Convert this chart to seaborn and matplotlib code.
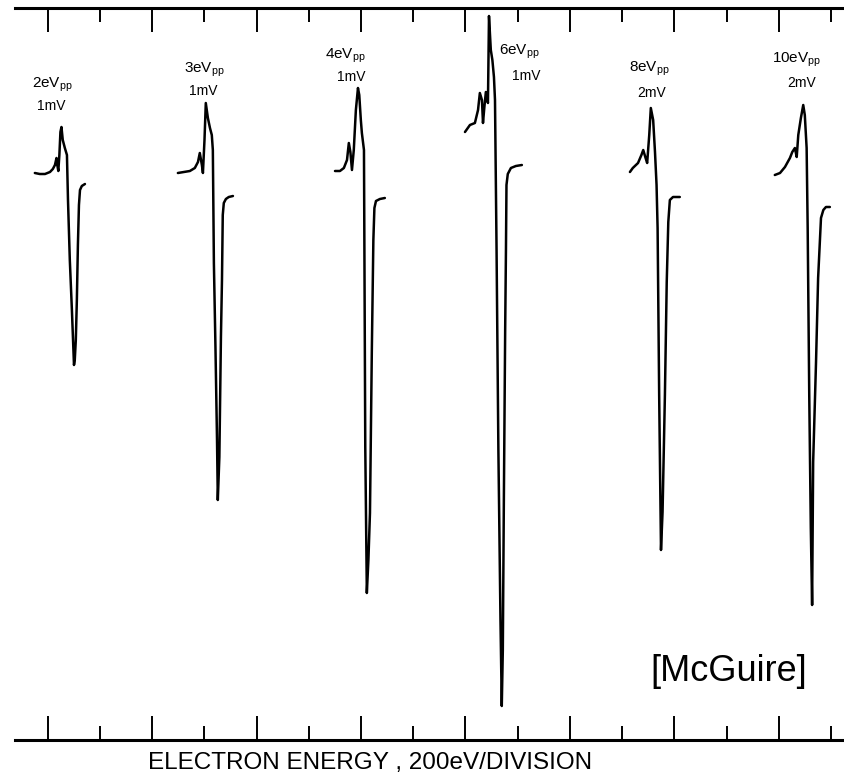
import numpy as np
import pandas as pd
import matplotlib
matplotlib.use("Agg")
import matplotlib.pyplot as plt
import seaborn as sns

# Auger derivative spectra at several modulation amplitudes
# energy in eV (200 eV per division), signal in arbitrary units
energy_2ev = [-50, -31, -11, 8, 19, 27, 33, 36, 40, 44, 48, 52, 57, 65, 73, 77, 84, 92,
              100, 103, 107, 111, 115, 119, 123, 130, 142]
signal_2ev = [567, 566, 566, 568, 571, 575, 582, 575, 569, 585, 608, 613, 600, 592, 585, 540, 480, 430,
              375, 380, 400, 440, 495, 535, 550, 554, 556]

energy_3ev = [498, 521, 544, 563, 575, 582, 590, 594, 600, 605, 613, 621, 628, 632, 636, 642, 648,
              651, 657, 663, 667, 670, 674, 682, 693, 709]
signal_3ev = [567, 568, 569, 572, 578, 587, 575, 567, 600, 637, 622, 612, 605, 590, 477, 393, 300,
              240, 283, 403, 460, 525, 537, 541, 543, 544]

energy_4ev = [1100, 1119, 1134, 1146, 1153, 1159, 1165, 1172, 1180, 1188, 1193, 1199, 1203, 1211,
              1216, 1222, 1228, 1234, 1241, 1247, 1251, 1257, 1272, 1291]
signal_4ev = [569, 569, 572, 580, 597, 588, 570, 590, 630, 652, 645, 620, 607, 590,
              293, 147, 180, 227, 387, 500, 532, 539, 541, 542]

energy_6ev = [1598, 1617, 1636, 1648, 1655, 1663, 1667, 1672, 1678, 1686, 1690, 1697, 1703, 1709,
              1713, 1719, 1726, 1734, 1739, 1743, 1747, 1752, 1755, 1757, 1762, 1774, 1793, 1816]
signal_6ev = [608, 615, 617, 630, 647, 640, 617, 632, 648, 637, 724, 690, 680, 663,
              640, 490, 290, 120, 34, 90, 240, 410, 490, 555, 566, 572, 574, 575]

energy_8ev = [2230, 2241, 2261, 2274, 2281, 2290, 2296, 2304, 2310, 2319, 2326, 2332, 2336, 2342,
              2349, 2355, 2364, 2371, 2377, 2383, 2395, 2421]
signal_8ev = [568, 572, 577, 585, 590, 582, 577, 605, 632, 620, 588, 555, 512, 345,
              190, 228, 345, 458, 518, 540, 543, 543]

energy_10ev = [2785, 2805, 2824, 2843, 2852, 2862, 2869, 2875, 2885, 2894, 2900, 2907, 2911, 2917,
               2923, 2928, 2932, 2943, 2951, 2962, 2971, 2981, 2996]
signal_10ev = [565, 567, 573, 582, 588, 592, 583, 605, 622, 635, 625, 592, 512, 345,
               212, 135, 278, 378, 462, 522, 530, 533, 533]

modulations = ["2", "3", "4", "6", "8", "10"]
sensitivities = ["1mV", "1mV", "1mV", "1mV", "2mV", "2mV"]

# build one long table for seaborn
traces = [(energy_2ev, signal_2ev), (energy_3ev, signal_3ev), (energy_4ev, signal_4ev),
          (energy_6ev, signal_6ev), (energy_8ev, signal_8ev), (energy_10ev, signal_10ev)]
frames = []
for mod, (e, s) in zip(modulations, traces):
    frames.append(pd.DataFrame({"energy": e, "signal": s, "trace": mod}))
df = pd.concat(frames, ignore_index=True)

sns.set_style("white")
plt.rcParams["font.family"] = ["Liberation Sans", "DejaVu Sans"]
plt.rcParams["text.color"] = "black"
plt.rcParams["axes.labelcolor"] = "black"

fig = plt.figure(figsize=(8.45, 7.81), dpi=100)
ax = fig.add_axes([15 / 845, 41 / 781, 830 / 845, 732 / 781])

sns.lineplot(data=df, x="energy", y="signal", units="trace", estimator=None, sort=False,
             color="black", linewidth=1.8, ax=ax, legend=False)

# label anchors (title line and sensitivity line) above each spectrum
title_pos = [(19, 653), (601, 668), (1138, 682), (1808, 686), (2306, 669), (2870, 678)]
sens_pos = [(11, 630), (594, 645), (1161, 659), (1831, 660), (2314, 643), (2889, 653)]
for mod, sens, tp, sp in zip(modulations, sensitivities, title_pos, sens_pos):
    ax.text(tp[0], tp[1], mod + r"eV$_{\mathregular{pp}}$", ha="center", va="baseline",
            fontsize=11, color="black")
    ax.text(sp[0], sp[1], sens, ha="center", va="baseline", fontsize=10, color="black")

ax.text(2310, 59, "[McGuire]", ha="left", va="baseline", fontsize=26, color="black")

ax.set_xlim(-126, 3054)
ax.set_ylim(0, 732)
ax.set_xticks(np.arange(0, 3001, 400))
ax.set_xticks(np.arange(200, 3001, 400), minor=True)
ax.set_yticks([])
ax.tick_params(axis="x", which="both", direction="in", top=True, bottom=True,
               labelbottom=False, width=1.4, color="black")
ax.tick_params(axis="x", which="major", length=17)
ax.tick_params(axis="x", which="minor", length=10)

for side in ["left", "right"]:
    ax.spines[side].set_visible(False)
for side in ["top", "bottom"]:
    ax.spines[side].set_linewidth(2.2)
    ax.spines[side].set_color("black")

ax.set_xlabel("ELECTRON ENERGY , 200eV/DIVISION", fontsize=17.5, va="baseline", color="black")
ax.xaxis.set_label_coords((370 - 15) / 830, -(769 - 740) / 732)
ax.set_ylabel("")

fig.savefig("out.png", dpi=100)
